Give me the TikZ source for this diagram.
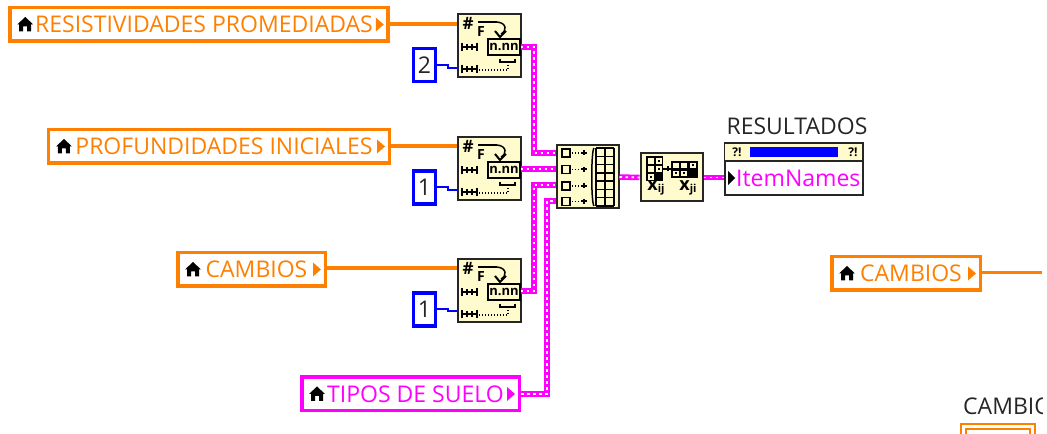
\documentclass[tikz,border=0pt]{standalone}
\usepackage{fontspec}
\setmainfont{Open Sans}
\usepackage{xcolor}
\usetikzlibrary{calc, positioning}
\definecolor{lvorange}{HTML}{FF8000}
\definecolor{lvpink}{HTML}{FF00FF}
\definecolor{lvblue}{HTML}{0000FF}
\definecolor{lvyellow}{HTML}{FFFBCC}
\definecolor{lvdark}{HTML}{262626}
\newcommand{\lvsize}{\fontsize{23bp}{26bp}\selectfont}
\newcommand{\termtext}[1]{\hspace{10bp}#1}
\tikzset{
    term/.style ={rectangle, draw=lvorange, line width=3.5bp, fill=white, text=lvorange,
                  minimum height=33.5bp, inner sep=0pt, font=\lvsize},
    numconst/.style ={rectangle, draw=lvblue, line width=3.5bp, fill=white, text=lvdark,
                  minimum width=22bp, minimum height=33bp, inner sep=0pt, font=\lvsize},
    block/.style ={rectangle, draw=lvdark, line width=2bp, fill=lvyellow, inner sep=0pt},
    orangewire/.style ={draw=lvorange, line width=3.5bp},
    bluewire/.style ={draw=lvblue, line width=2bp},
    chainwire/.style ={draw=lvpink, line width=5.5bp,
                  postaction={draw=white, line width=1.8bp, dash pattern=on 2.5bp off 3.5bp}},
    thinline/.style ={draw=black, line width=1.5bp},
    dots/.style ={draw=black, line width=1.2bp, dash pattern=on 1.2bp off 1.8bp},
    pics/house/.style ={code={
        \fill[black] (0,-7.5) -- (8,0) -- (6,0) -- (6,7) -- (2,7) -- (2,2) -- (-2,2)
            -- (-2,7) -- (-6,7) -- (-6,0) -- (-8,0) -- cycle;
    }},
    pics/termarrow/.style ={code={
        \fill[#1] (-14,-7) -- (-6,0) -- (-14,7) -- cycle;
    }},
    pics/numfmt/.style ={code={
        \node[font=\bfseries\fontsize{17bp}{17bp}\selectfont, inner sep=0pt] (-hash) at (11,9) {\#};
        \node[font=\bfseries\fontsize{14bp}{14bp}\selectfont, inner sep=0pt] (-f) at (24,17.5) {F};
        \draw[black, line width=2.5bp] (21,8) -- (40,8);
        \draw[thinline] (40,8) .. controls (50,9) and (50,17) .. (44,20);
        \draw[black, line width=2bp] (38,17) -- (43,23) -- (49,17);
        \draw[black, line width=1.5bp, fill=lvyellow] (31,25) rectangle (63,41);
        \node[font=\bfseries\fontsize{13bp}{13bp}\selectfont, inner sep=0pt] (-fmt) at (47,33) {n.nn};
        \foreach \y in {33,55} {
            \draw[thinline] (5,\y-4) -- (5,\y+4);
            \draw[thinline] (5,\y) -- (20,\y);
            \draw[thinline] (20,\y-4) -- (20,\y+4);
            \draw[thinline] (10,\y-3) -- (10,\y+3);
            \draw[thinline] (15,\y-3) -- (15,\y+3);
        }
        \draw[dots] (22,56) -- (50,56);
        \draw[thinline] (43,45) -- (43,48) -- (58,48) -- (58,45);
        \draw[dots] (51,48) -- (51,55);
    }},
    pics/buildarr/.style ={code={
        \foreach \y in {8,24.5,41,56.5} {
            \draw[thinline] (6,\y-4) rectangle (14,\y+4);
            \draw[dots] (16,\y) -- (25,\y);
            \draw[black, line width=2bp] (25,\y) -- (31,\y);
            \draw[black, line width=2bp] (28,\y-2.5) -- (28,\y+2.5);
        }
        \draw[thinline] (38,3) .. controls (35,6) and (35,58) .. (38,61);
        \foreach \x in {40,49,58} {\draw[thinline] (\x,3) -- (\x,61);}
        \foreach \y in {3,11.3,19.6,27.9,36.1,44.4,52.7,61} {\draw[thinline] (40,\y) -- (58,\y);}
    }},
    pics/reshape/.style ={code={
        \fill[black] (6,3) rectangle (23,28);
        \foreach \x/\y in {8/5,16/5,8/13,16/13,8/21} {
            \fill[lvyellow] (\x,\y) rectangle ++(5.5,6);
        }
        \fill[black] (18,7) rectangle ++(2,2);
        \fill[black] (18,15) rectangle ++(2,2);
        \fill[black] (10,23) rectangle ++(2,2);
        \fill[black] (31,8) rectangle (58,25);
        \foreach \x/\y in {33/10,41/10,33/18,41/18,50/10} {
            \fill[lvyellow] (\x,\y) rectangle ++(6,5);
        }
        \fill[black] (35,19.5) rectangle ++(2,2);
        \fill[black] (43,19.5) rectangle ++(2,2);
        \fill[black] (52,11.5) rectangle ++(2,2);
        \draw[thinline] (23,16) -- (31,16);
        \draw[thinline] (28,13.5) -- (28,18.5);
        \node[font=\bfseries\fontsize{18bp}{18bp}\selectfont, inner sep=0pt] (-ija) at (16,35)
            {x\raisebox{-2bp}{\fontsize{11bp}{11bp}\selectfont ij}};
        \node[font=\bfseries\fontsize{18bp}{18bp}\selectfont, inner sep=0pt] (-ijb) at (48,35)
            {x\raisebox{-2bp}{\fontsize{11bp}{11bp}\selectfont ji}};
    }}
    }

\begin{document}
\begin{tikzpicture}[x=1bp, y=-1bp]
    \useasboundingbox (0,0) rectangle (1047,434);

    % terminals on the left
    \node[term, minimum width=378bp] (res) at (199,24.5) {\termtext{RESISTIVIDADES PROMEDIADAS}};
    \node[term, minimum width=340.5bp] (prof) at (219,146.5) {\termtext{PROFUNDIDADES INICIALES}};
    \node[term, minimum width=147.5bp] (cam) at (251.5,269.5) {\termtext{CAMBIOS}};
    \node[term, minimum width=217.5bp, draw=lvpink, text=lvpink] (tipos) at (410.5,394) {\termtext{TIPOS DE SUELO}};
    \node[term, minimum width=148.5bp] (camr) at (906,273.5) {\termtext{CAMBIOS}};

    \foreach \t in {res,prof,cam,tipos,camr} {
        \pic at ($(\t.west)+(17,0)$) {house};
    }
    \foreach \t in {res,prof,cam,camr} {
        \pic at (\t.east) {termarrow=lvorange};
    }
    \pic at (tipos.east) {termarrow=lvpink};

    % format blocks
    \node[block, minimum width=63bp, minimum height=63bp] (fmt1) at (489,46) {};
    \node[block, minimum width=63bp, minimum height=63bp] (fmt2) at (489,168.5) {};
    \node[block, minimum width=63bp, minimum height=63bp] (fmt3) at (489,290.5) {};
    \pic (icon1) at (457,14) {numfmt};
    \pic (icon2) at (457,137) {numfmt};
    \pic (icon3) at (457,259) {numfmt};

    \node[numconst] (two) at (424.5,65) {2};
    \node[numconst] (oneA) at (424.5,187.5) {1};
    \node[numconst] (oneB) at (424.5,309.5) {1};

    % build array and reshape
    \node[block, minimum width=62bp, minimum height=63bp] (build) at (587.5,177) {};
    \pic (iconb) at (556,145) {buildarr};
    \node[block, minimum width=62bp, minimum height=48bp] (shape) at (671.5,177.5) {};
    \pic (icons) at (640,153) {reshape};

    % table indicator
    \node[block, minimum width=138bp, minimum height=52bp, fill=white] (table) at (793.5,169.5) {};
    \fill[lvyellow] (725,144) rectangle (862,160);
    \draw[draw=lvdark, line width=2bp] (724,161) -- (863,161);
    \fill[lvblue] (750,147) rectangle (838,157);
    \node[font=\bfseries\fontsize{12bp}{12bp}\selectfont, inner sep=0pt] (warnA) at (737,152) {?!};
    \node[font=\bfseries\fontsize{12bp}{12bp}\selectfont, inner sep=0pt] (warnB) at (853,152) {?!};
    \fill[black] (728,171) -- (735,178) -- (728,185) -- cycle;
    \node[font=\lvsize, text=lvpink, inner sep=0pt, anchor=west] (items) at (736,178) {ItemNames};
    \node[font=\lvsize, text=lvdark, inner sep=0pt] (restitle) at (797,126) {RESULTADOS};

    % clipped control at the bottom right
    \begin{scope}
        \clip (900,390) rectangle (1042,434);
        \node[font=\lvsize, text=lvdark, inner sep=0pt, anchor=west] (camtitle) at (963,406) {CAMBIOS};
        \node[draw=lvorange, line width=1.5bp, fill=white, minimum width=74bp, minimum height=24bp] (camctl) at (998,436) {};
        \node[draw=lvorange, line width=1.5bp, minimum width=64bp, minimum height=14bp] (camin) at (998,436) {};
    \end{scope}

    % ports
    \coordinate (o1) at (520.5,47);
    \coordinate (o2) at (520.5,169);
    \coordinate (o3) at (520.5,291);
    \coordinate (m1) at (556,153);
    \coordinate (m2) at (556,169);
    \coordinate (m3) at (556,185);
    \coordinate (m4) at (556,201);
    \coordinate (i1) at (457,24);
    \coordinate (i2) at (457,146);
    \coordinate (i3) at (457,268);
    \coordinate (b1) at (457,68);
    \coordinate (b2) at (457,190);
    \coordinate (b3) at (457,311);
    \coordinate (cend) at (1042,272.5);

    % wires
    \draw[orangewire] (res.east |- i1) -- (i1);
    \draw[orangewire] (prof.east |- i2) -- (i2);
    \draw[orangewire] (cam.east |- i3) -- (i3);
    \draw[orangewire] (camr.east |- cend) -- (cend);

    \draw[bluewire] (two.east) -- ++(11,0) |- (b1);
    \draw[bluewire] (oneA.east) -- ++(11,0) |- (b2);
    \draw[bluewire] (oneB.east) -- ++(11,0) |- (b3);

    \draw[chainwire] (o1) -- ++(13.5,0) |- (m1);
    \draw[chainwire] (o2) -- (m2);
    \draw[chainwire] (o3) -- ++(13.5,0) |- (m3);
    \draw[chainwire] (tipos.east) -- ++(26,0) |- (m4);
    \draw[chainwire] (build.east) -- (shape.west);
    \draw[chainwire] (shape.east) -- (table.west |- shape.east);
\end{tikzpicture}
\end{document}
